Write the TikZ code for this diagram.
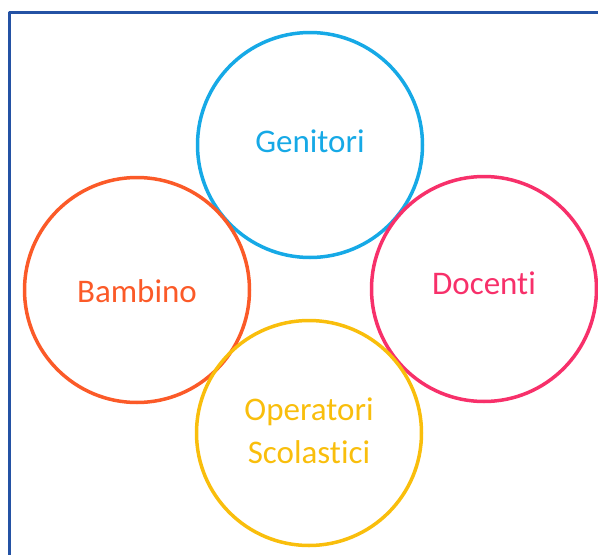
\documentclass[tikz,border=0pt]{standalone}
\usepackage{fontspec}
\setmainfont[Ligatures=NoCommon]{Carlito}
\definecolor{framebl}{HTML}{2452A4}
\definecolor{genbl}{HTML}{16A9E6}
\definecolor{bamor}{HTML}{FB5A28}
\definecolor{docpk}{HTML}{F7306A}
\definecolor{opeyl}{HTML}{F9BE0C}
\begin{document}
\begin{tikzpicture}[x=1pt, y=-1pt, line join=round, line cap=round, font=\fontsize{33}{43}\selectfont]
			\useasboundingbox (0,0) rectangle (598,555);
			\draw[framebl, line width=3pt] (598,12) -- (9,12) -- (9,555);
			\foreach \n/\x/\y/\c/\dy/\t in {gen/310/145/genbl/4/Genitori,bam/137/290/bamor/-1/Bambino,doc/484/289/docpk/6/Docenti,ope/309/433/opeyl/2/{Operatori\\Scolastici}} {
				\node[circle, draw=\c, line width=3.5pt, minimum size=225pt, inner sep=0pt,
					label={[text=\c, align=center, yshift=\dy pt]center:\t}] (\n) at (\x,\y) {};}
	\end{tikzpicture}
\end{document}
